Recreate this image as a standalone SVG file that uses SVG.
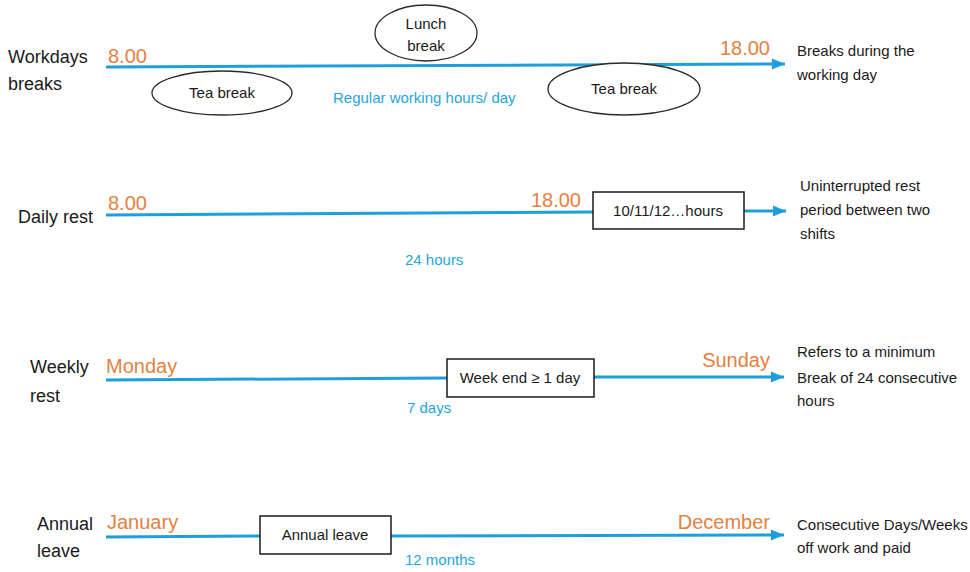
<svg xmlns="http://www.w3.org/2000/svg" width="970" height="572" viewBox="0 0 970 572">
<style>
text{font-family:"Liberation Sans",Arial,sans-serif}
.lbl{font-size:18px;fill:#1a1a1a}
.org{font-size:20px;fill:#E5813F}
.blu{font-size:15px;fill:#1FA6DB}
.dsc{font-size:15px;fill:#1a1a1a}
.in{font-size:15px;fill:#1a1a1a;text-anchor:middle}
.ell{fill:#fff;stroke:#2a2a2a;stroke-width:1.3}
.box{fill:#fff;stroke:#1a1a1a;stroke-width:1.5}
.ln{stroke:#1E9FDC;stroke-width:3;fill:none}
</style>
<defs>
<marker id="ah" markerUnits="userSpaceOnUse" markerWidth="14" markerHeight="14" viewBox="0 0 14 14" refX="13" refY="7" orient="auto">
<path d="M0,1.5 L13,7 L0,12.5 Z" fill="#1E9FDC"/>
</marker>
</defs>
<rect width="970" height="572" fill="#fff"/>

<g id="connectors">
<line class="ln" x1="106" y1="67" x2="785" y2="64" marker-end="url(#ah)"/>
<line class="ln" x1="106" y1="215" x2="593" y2="212"/>
<line class="ln" x1="744" y1="211" x2="786" y2="211" marker-end="url(#ah)"/>
<line class="ln" x1="106" y1="380" x2="447" y2="378"/>
<line class="ln" x1="594" y1="377" x2="784" y2="377" marker-end="url(#ah)"/>
<line class="ln" x1="106" y1="537" x2="260" y2="536"/>
<line class="ln" x1="391" y1="536" x2="784" y2="535" marker-end="url(#ah)"/>
</g>

<g id="row-workdays">
<text class="lbl" x="8" y="63">Workdays</text>
<text class="lbl" x="8" y="90">breaks</text>
<text class="org" x="108" y="63">8.00</text>
<text class="org" x="770" y="55" text-anchor="end">18.00</text>
<text class="blu" x="333" y="103">Regular working hours/ day</text>
<text class="dsc" x="797" y="56">Breaks during the</text>
<text class="dsc" x="797" y="80">working day</text>
</g>
<g id="lunch-break">
<ellipse class="ell" cx="426" cy="33" rx="51" ry="28"/>
<text class="in" x="426" y="29" font-size="14">Lunch</text>
<text class="in" x="426" y="51" font-size="14">break</text>
</g>
<g id="tea-break-1">
<ellipse class="ell" cx="222" cy="93" rx="70" ry="22"/>
<text class="in" x="222" y="98" font-size="14">Tea break</text>
</g>
<g id="tea-break-2">
<ellipse class="ell" cx="624" cy="89" rx="76" ry="26"/>
<text class="in" x="624" y="94" font-size="14">Tea break</text>
</g>

<g id="row-daily">
<text class="lbl" x="18" y="223">Daily rest</text>
<text class="org" x="108" y="210">8.00</text>
<text class="org" x="581" y="207" text-anchor="end">18.00</text>
<text class="blu" x="405" y="265">24 hours</text>
<text class="dsc" x="800" y="191">Uninterrupted rest</text>
<text class="dsc" x="800" y="215">period between two</text>
<text class="dsc" x="800" y="239">shifts</text>
</g>
<g id="box-daily">
<rect class="box" x="593" y="192" width="151" height="37"/>
<text class="in" x="668" y="216">10/11/12…hours</text>
</g>

<g id="row-weekly">
<text class="lbl" x="30" y="373">Weekly</text>
<text class="lbl" x="30" y="402">rest</text>
<text class="org" x="106" y="373">Monday</text>
<text class="org" x="770" y="367" text-anchor="end">Sunday</text>
<text class="blu" x="407" y="413">7 days</text>
<text class="dsc" x="797" y="357">Refers to a minimum</text>
<text class="dsc" x="797" y="383">Break of 24 consecutive</text>
<text class="dsc" x="797" y="406">hours</text>
</g>
<g id="box-weekly">
<rect class="box" x="447" y="359" width="147" height="38"/>
<text class="in" x="520" y="383">Week end ≥ 1 day</text>
</g>

<g id="row-annual">
<text class="lbl" x="37" y="530">Annual</text>
<text class="lbl" x="37" y="557">leave</text>
<text class="org" x="107" y="529">January</text>
<text class="org" x="770" y="529" text-anchor="end">December</text>
<text class="blu" x="405" y="565">12 months</text>
<text class="dsc" x="797" y="530">Consecutive Days/Weeks</text>
<text class="dsc" x="797" y="553">off work and paid</text>
</g>
<g id="box-annual">
<rect class="box" x="260" y="516" width="131" height="38"/>
<text class="in" x="325" y="540">Annual leave</text>
</g>
</svg>
